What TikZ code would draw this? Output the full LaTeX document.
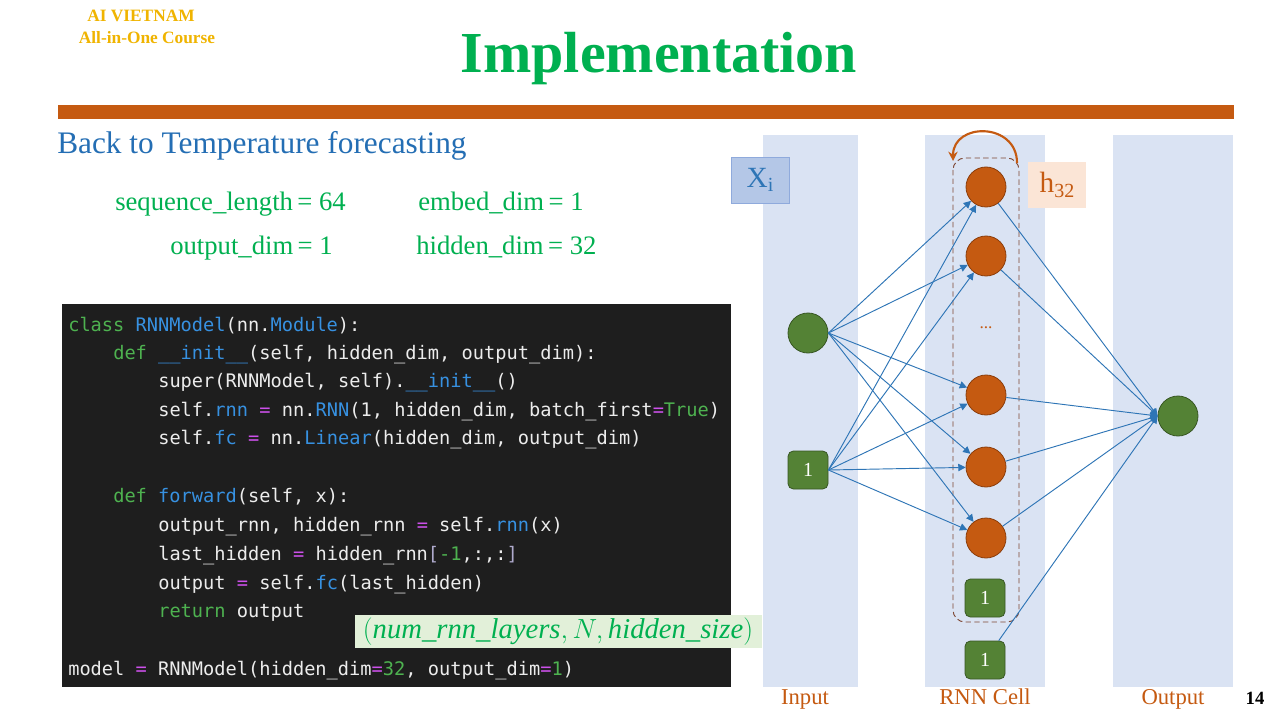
\documentclass[tikz,border=0pt]{standalone}
\usepackage{fontspec}
\setmainfont{Liberation Serif}
\setmonofont{DejaVu Sans Mono}
\usetikzlibrary{arrows.meta}

\definecolor{gold}{RGB}{240,180,0}
\definecolor{titlegreen}{RGB}{0,176,80}
\definecolor{barorange}{RGB}{197,90,17}
\definecolor{headblue}{RGB}{36,110,180}
\definecolor{codebg}{RGB}{30,30,30}
\definecolor{codefg}{RGB}{236,236,236}
\definecolor{codekw}{RGB}{78,178,80}
\definecolor{codenm}{RGB}{55,145,225}
\definecolor{codeeq}{RGB}{205,80,235}
\definecolor{codebr}{RGB}{175,170,205}
\definecolor{notebg}{RGB}{226,240,217}
\definecolor{colbg}{RGB}{218,227,243}
\definecolor{xbg}{RGB}{180,199,231}
\definecolor{xdraw}{RGB}{143,170,220}
\definecolor{xtext}{RGB}{46,117,182}
\definecolor{hbg}{RGB}{251,229,214}
\definecolor{nodegreen}{RGB}{84,130,53}
\definecolor{nodegreenb}{RGB}{56,87,35}
\definecolor{nodeorange}{RGB}{197,90,17}
\definecolor{nodeorangeb}{RGB}{140,62,12}
\definecolor{wireblue}{RGB}{46,117,182}
\definecolor{dashbrown}{RGB}{125,70,50}

\newcommand{\ckw}[1]{\textcolor{codekw}{#1}}
\newcommand{\cnm}[1]{\textcolor{codenm}{#1}}
\newcommand{\ceq}{\textcolor{codeeq}{=}}
\newcommand{\cbr}[1]{\textcolor{codebr}{#1}}

\tikzset{
  codeline/.style={anchor=base west, inner sep=0pt, text=codefg,
    font=\ttfamily\fontsize{14}{16}\selectfont\frenchspacing},
  param/.style={anchor=base west, inner sep=0pt, text=titlegreen,
    font=\fontsize{20}{22}\selectfont},
  column/.style={fill=colbg, draw=none},
  neuron/.style={circle, minimum size=30pt, inner sep=0pt, line width=0.6pt},
  hid/.style={neuron, fill=nodeorange, draw=nodeorangeb},
  grn/.style={neuron, fill=nodegreen, draw=nodegreenb},
  bias/.style={rectangle, rounded corners=4pt, minimum width=30pt, minimum height=28.5pt,
    inner sep=0pt, fill=nodegreen, draw=nodegreenb, line width=0.6pt,
    text=white, font=\fontsize{15}{15}\selectfont},
  wire/.style={draw=wireblue, line width=0.7pt},
  warrow/.style={wire, -{Triangle[length=5.5pt,width=5.5pt]}},
  collabel/.style={anchor=base, text=barorange, font=\fontsize{17}{19}\selectfont},
}

\begin{document}
\begin{tikzpicture}[x=0.75pt,y=-0.75pt]
\useasboundingbox (0,0) rectangle (1280,720);
\fill[white] (0,0) rectangle (1280,720);

% header
\node[anchor=base, text=gold, font=\bfseries\fontsize{13}{14}\selectfont, inner sep=0pt] (brand1) at (141,22) {AI VIETNAM};
\node[anchor=base, text=gold, font=\bfseries\fontsize{13}{14}\selectfont, inner sep=0pt] (brand2) at (147,44) {All-in-One Course};
\node[anchor=base, text=titlegreen, font=\bfseries\fontsize{43.5}{46}\selectfont, inner sep=0pt] (title) at (659,73) {Implementation};
\fill[barorange] (58,105) rectangle (1234,119);

% subtitle and parameters
\node[anchor=base west, text=headblue, font=\fontsize{23.5}{26}\selectfont, inner sep=0pt] (sub) at (57,154) {Back to Temperature\ forecasting};
\node[param] (p1) at (115,211) {sequence\_length\,= 64};
\node[param] (p2) at (418,211) {embed\_dim\,= 1};
\node[param] (p3) at (170,254) {output\_dim\,= 1};
\node[param] (p4) at (416,254) {hidden\_dim\,= 32};

% code panel
\fill[codebg] (62,304) rectangle (731,687);
\node[codeline] (c1) at (68,331) {\ckw{class} \cnm{RNNModel}(nn.\cnm{Module}):};
\node[codeline] (c2) at (113,359) {\ckw{def} \cnm{\_\_init\_\_}(self, hidden\_dim, output\_dim):};
\node[codeline] (c3) at (158,387) {super(RNNModel, self).\cnm{\_\_init\_\_}()};
\node[codeline] (c4) at (158,416) {self.\cnm{rnn} \ceq{} nn.\cnm{RNN}(1, hidden\_dim, batch\_first\ceq\ckw{True})};
\node[codeline] (c5) at (158,444) {self.\cnm{fc} \ceq{} nn.\cnm{Linear}(hidden\_dim, output\_dim)};
\node[codeline] (c6) at (113,502) {\ckw{def} \cnm{forward}(self, x):};
\node[codeline] (c7) at (158,531) {output\_rnn, hidden\_rnn \ceq{} self.\cnm{rnn}(x)};
\node[codeline] (c8) at (158,560) {last\_hidden \ceq{} hidden\_rnn\cbr{[}\ckw{-1},:,:\cbr{]}};
\node[codeline] (c9) at (158,589) {output \ceq{} self.\cnm{fc}(last\_hidden)};
\node[codeline] (c10) at (158,617) {\ckw{return} output};
\node[codeline] (c11) at (68,675) {model \ceq{} RNNModel(hidden\_dim\ceq\ckw{32}, output\_dim\ceq\ckw{1})};

% shape note
\fill[notebg] (355,615) rectangle (762,648);
\node[text=titlegreen, font=\fontsize{21.5}{22}\selectfont, inner sep=0pt] (shape) at (558,632)
  {$(\mathit{num\_rnn\_layers},N,\mathit{hidden\_size})$};

% network columns
\fill[column] (763,135) rectangle (858,687);
\fill[column] (925,135) rectangle (1045,687);
\fill[column] (1113,135) rectangle (1233,687);
\node[collabel] (lin) at (805,704) {Input};
\node[collabel] (lrnn) at (985,704) {RNN Cell};
\node[collabel] (lout) at (1173,704) {Output};
\node[anchor=base, font=\bfseries\fontsize{14}{15}\selectfont, inner sep=0pt] (page) at (1255,704) {14};

% input tag and hidden-size tag
\node[draw=xdraw, fill=xbg, minimum width=43.5pt, minimum height=34.5pt, inner sep=0pt,
  text=xtext, font=\fontsize{22}{22}\selectfont] (xi) at (760,180) {X\raisebox{-0.3ex}{\fontsize{15}{15}\selectfont i}};
\node[fill=hbg, minimum width=43.5pt, minimum height=34pt, inner sep=0pt,
  text=barorange, font=\fontsize{22}{22}\selectfont] (h32) at (1057,185) {h\raisebox{-0.35ex}{\fontsize{15}{15}\selectfont 32}};

% recurrent block outline and loop
\draw[dashbrown, dash pattern=on 4pt off 2.5pt, line width=0.7pt, rounded corners=9pt] (953,158) rectangle (1019,622);
\draw[barorange, line width=1.6pt, -{Stealth[length=7pt,width=7pt]}]
  (1017,163) .. controls (1017,122) and (953,122) .. (953,161);

% neurons
\node[grn] (in) at (808,333) {};
\node[bias] (inb) at (808,470) {1};
\node[hid] (r1) at (986,187) {};
\node[hid] (r2) at (986,256) {};
\node[text=barorange, font=\fontsize{13}{13}\selectfont] (dots) at (986,328) {...};
\node[hid] (r3) at (986,395) {};
\node[hid] (r4) at (986,467) {};
\node[hid] (r5) at (986,538) {};
\node[bias] (rb) at (985,598) {1};
\node[bias] (ob) at (985,660) {1};
\node[grn] (out) at (1178,416) {};

% input to hidden connections
\foreach \r in {r1,r2,r3,r4,r5}{
  \draw[warrow] (in.east) -- (\r);
  \draw[warrow] (inb.east) -- (\r);
}
% hidden to output connections
\foreach \r in {r1,r2,r3,r4,r5}{
  \draw[warrow] (\r) -- (out.west);
}
\draw[warrow] (ob) -- (out.west);
\end{tikzpicture}
\end{document}
